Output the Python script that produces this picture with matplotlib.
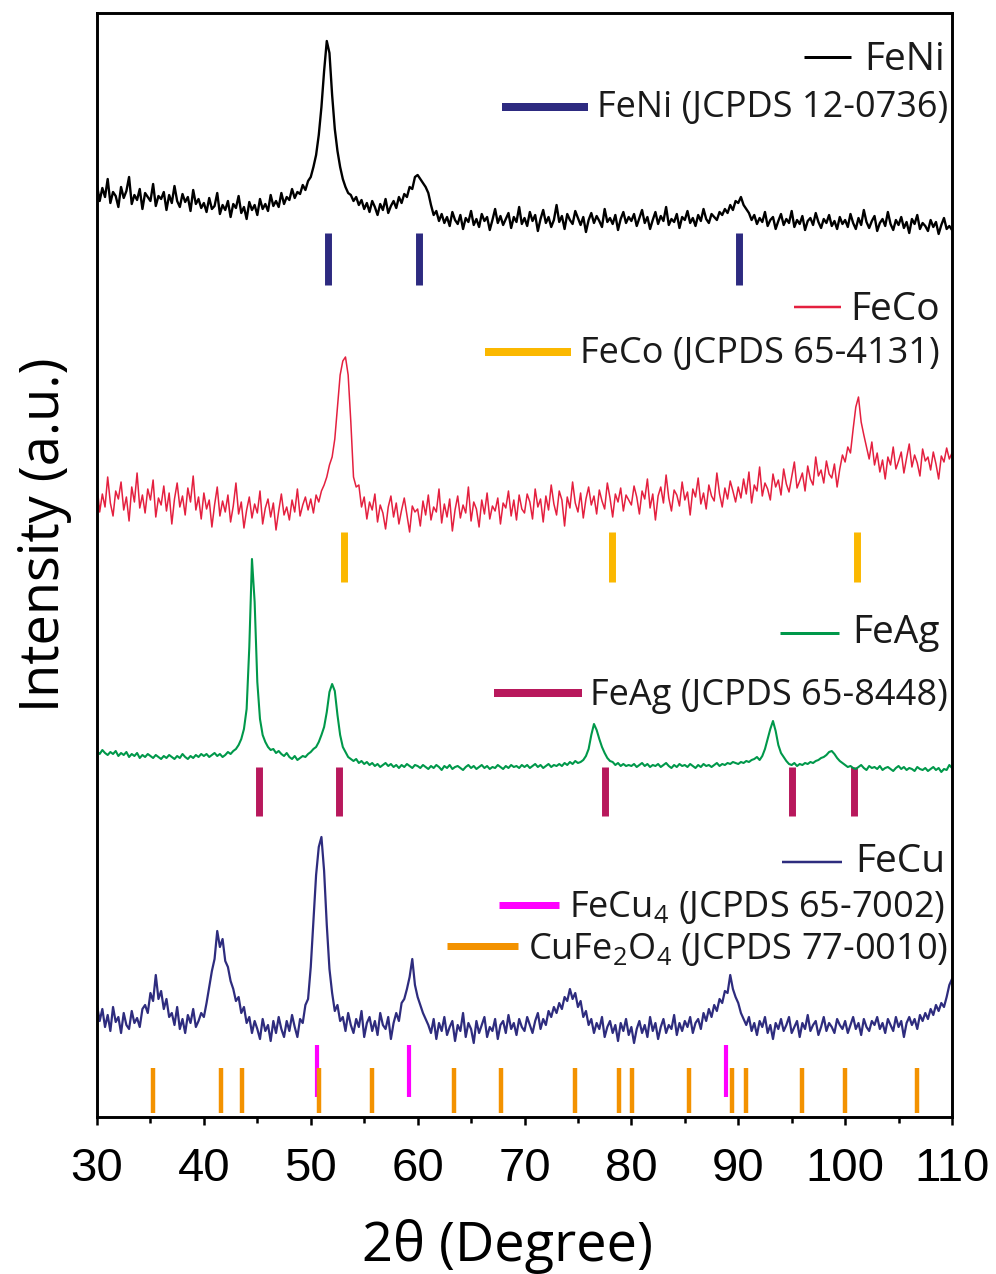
import numpy as np
import matplotlib
matplotlib.use("Agg")
import matplotlib.pyplot as plt
from matplotlib.ticker import MultipleLocator
from matplotlib.transforms import blended_transform_factory

# 2-theta grid of the scans (0.25 degree step)
two_theta = np.arange(30, 110.001, 0.25)

# intensities (a.u.), one line per 10 degrees
fe_ni = [82, 66, 79, 70, 88, 64, 75, 71, 60, 80, 69, 76, 90, 63, 72, 67, 78, 58, 74, 70, 66, 83, 61, 71, 68, 75, 57, 72, 64, 81, 66, 60, 73, 65, 70, 56, 77, 63, 68, 59,
         64, 55, 69, 58, 61, 74, 53, 62, 57, 66, 50, 63, 59, 71, 54, 60, 48, 65, 57, 62, 52, 68, 58, 63, 56, 72, 61, 66, 60, 74, 63, 70, 67, 78, 69, 75, 73, 82, 77, 86,
         90, 100, 112, 132, 160, 196, 226, 214, 172, 138, 116, 100, 88, 80, 74, 72, 66, 70, 62, 67, 58, 64, 55, 66, 60, 52, 63, 57, 68, 54, 61, 66, 59, 70, 64, 73, 70, 80, 78, 90,
         92, 88, 84, 80, 74, 62, 52, 56, 46, 53, 44, 50, 41, 55, 47, 43, 52, 38, 49, 45, 56, 42, 48, 40, 53, 46, 50, 37, 47, 58, 44, 51, 42, 48, 54, 39, 50, 45, 60, 43,
         49, 41, 55, 46, 52, 36, 48, 57, 44, 50, 40, 47, 62, 45, 51, 38, 53, 47, 43, 56, 49, 42, 50, 35, 47, 54, 44, 51, 46, 40, 58, 45, 49, 43, 52, 37, 48, 55, 44, 50,
         46, 53, 41, 49, 57, 44, 50, 38, 47, 55, 43, 51, 46, 60, 42, 48, 45, 53, 39, 50, 47, 56, 44, 49, 41, 52, 46, 58, 48, 44, 53, 50, 47, 55, 52, 58, 54, 62, 57, 66,
         64, 70, 62, 58, 54, 47, 52, 43, 49, 45, 55, 41, 47, 50, 38, 46, 53, 42, 48, 44, 56, 40, 47, 43, 51, 37, 46, 49, 42, 54, 45, 39, 48, 44, 52, 41, 46, 38, 50, 43,
         47, 40, 53, 44, 38, 49, 42, 57, 45, 39, 46, 51, 36, 44, 48, 41, 55, 43, 37, 47, 42, 50, 39, 45, 34, 48, 43, 52, 38, 44, 41, 36, 47, 40, 45, 33, 42, 49, 38, 41, 37]

fe_co = [72, 45, 63, 50, 80, 54, 41, 66, 58, 75, 47, 60, 36, 70, 55, 84, 49, 62, 44, 68, 57, 77, 40, 59, 52, 71, 46, 64, 33, 58, 74, 50, 61, 42, 69, 55, 81, 47, 60, 38,
         64, 48, 57, 30, 52, 70, 41, 56, 45, 62, 35, 51, 74, 43, 55, 29, 47, 60, 39, 53, 44, 66, 33, 49, 58, 40, 54, 27, 46, 63, 42, 50, 37, 57, 45, 68, 41, 52, 60, 47,
         58, 44, 62, 55, 66, 72, 80, 92, 100, 118, 150, 182, 196, 200, 182, 135, 80, 70, 72, 50, 60, 38, 55, 47, 63, 35, 52, 44, 28, 50, 61, 40, 54, 33, 47, 59, 42, 25, 51, 45,
         48, 31, 56, 42, 62, 37, 50, 45, 68, 34, 53, 40, 58, 26, 47, 61, 39, 52, 44, 70, 36, 55, 48, 30, 57, 43, 64, 38, 51, 46, 59, 33, 54, 49, 66, 41, 57, 37, 62, 48,
         44, 63, 55, 38, 68, 50, 58, 35, 61, 47, 72, 53, 42, 66, 57, 31, 60, 49, 75, 54, 45, 64, 39, 58, 70, 52, 61, 43, 67, 56, 48, 74, 59, 40, 63, 55, 69, 46, 62, 57,
         52, 71, 60, 43, 66, 58, 78, 49, 63, 37, 61, 70, 54, 82, 59, 46, 67, 62, 51, 75, 57, 65, 42, 68, 60, 79, 53, 64, 48, 72, 61, 56, 84, 63, 50, 69, 58, 76, 66, 55,
         70, 59, 78, 63, 85, 54, 72, 66, 90, 61, 74, 68, 57, 83, 70, 77, 62, 88, 73, 65, 80, 95, 69, 76, 84, 66, 91, 78, 72, 100, 81, 87, 74, 96, 83, 79, 93, 70, 88, 102,
         95, 110, 104, 128, 150, 160, 135, 122, 110, 98, 115, 92, 104, 85, 97, 78, 100, 92, 110, 88, 96, 105, 84, 99, 113, 90, 102, 94, 81, 108, 96, 100, 87, 105, 93, 78, 101, 95, 109, 98, 104]

fe_ag = [36, 33, 37, 34, 32, 35, 33, 36, 31, 34, 32, 35, 30, 33, 31, 34, 29, 32, 30, 33, 31, 29, 32, 30, 28, 31, 29, 32, 30, 28, 31, 29, 33, 30, 28, 31, 29, 32, 30, 33,
         31, 33, 30, 32, 34, 31, 33, 30, 32, 35, 33, 36, 38, 42, 48, 58, 78, 140, 228, 185, 105, 68, 52, 45, 40, 37, 38, 34, 36, 33, 31, 34, 30, 28, 31, 27, 29, 31, 30, 33,
         35, 38, 40, 45, 52, 60, 75, 95, 103, 96, 72, 52, 40, 35, 30, 28, 26, 28, 24, 26, 23, 25, 22, 24, 21, 23, 20, 22, 24, 21, 23, 20, 22, 19, 22, 20, 23, 21, 19, 22,
         21, 19, 22, 20, 18, 21, 19, 22, 20, 17, 21, 19, 22, 18, 20, 21, 19, 17, 20, 22, 19, 21, 18, 20, 22, 19, 21, 18, 20, 19, 22, 20, 18, 21, 19, 22, 20, 21, 19, 22,
         20, 22, 19, 21, 23, 20, 22, 19, 21, 23, 20, 22, 21, 23, 21, 24, 22, 25, 23, 26, 24, 25, 27, 31, 38, 52, 63, 57, 48, 40, 34, 29, 26, 25, 22, 24, 21, 23, 21, 22,
         21, 23, 20, 22, 24, 21, 23, 20, 22, 21, 23, 20, 22, 24, 21, 19, 22, 20, 23, 21, 22, 20, 23, 21, 19, 22, 20, 23, 21, 22, 20, 22, 24, 21, 23, 22, 24, 23, 25, 24,
         23, 25, 24, 26, 25, 27, 28, 30, 27, 31, 38, 48, 58, 66, 56, 42, 34, 30, 26, 23, 22, 24, 21, 23, 22, 24, 23, 25, 24, 26, 27, 29, 30, 32, 35, 36, 33, 29, 26, 24,
         22, 20, 21, 19, 18, 20, 22, 19, 17, 21, 19, 20, 18, 21, 17, 19, 20, 18, 16, 19, 21, 18, 20, 17, 19, 18, 16, 20, 18, 17, 19, 16, 18, 20, 17, 19, 15, 18, 17, 22, 19]

fe_cu = [112, 96, 108, 90, 102, 86, 110, 95, 100, 84, 104, 92, 88, 106, 94, 99, 90, 108, 112, 104, 124, 116, 142, 118, 126, 108, 118, 100, 104, 92, 110, 88, 98, 84, 102, 94, 108, 90, 96, 104,
         100, 114, 130, 146, 158, 186, 170, 178, 156, 150, 136, 128, 116, 120, 104, 110, 94, 100, 84, 96, 88, 78, 98, 86, 92, 76, 96, 84, 100, 88, 80, 96, 86, 102, 90, 80, 98, 94, 112, 118,
         150, 196, 242, 270, 280, 246, 192, 148, 124, 106, 112, 96, 100, 86, 104, 92, 84, 98, 90, 106, 80, 94, 100, 86, 96, 82, 104, 92, 88, 100, 78, 94, 104, 96, 114, 118, 128, 140, 158, 132,
         120, 112, 104, 98, 92, 84, 98, 78, 94, 86, 100, 82, 90, 96, 76, 92, 86, 104, 80, 94, 88, 74, 96, 84, 92, 100, 80, 90, 86, 98, 78, 92, 96, 84, 102, 88, 94, 82, 98, 90,
         86, 100, 92, 84, 96, 104, 88, 98, 92, 106, 100, 110, 104, 114, 108, 120, 116, 128, 118, 124, 110, 116, 100, 106, 92, 98, 84, 94, 88, 100, 80, 90, 96, 84, 92, 76, 94, 86, 98, 82,
         90, 74, 88, 96, 84, 92, 80, 100, 86, 94, 78, 90, 98, 84, 92, 88, 102, 82, 94, 86, 96, 90, 100, 84, 94, 98, 88, 104, 96, 108, 100, 112, 106, 118, 114, 126, 124, 142, 128, 120,
         114, 104, 98, 92, 100, 86, 94, 82, 96, 90, 100, 84, 92, 78, 94, 88, 98, 86, 92, 100, 84, 90, 96, 80, 94, 88, 102, 86, 92, 96, 82, 90, 100, 86, 94, 90, 84, 98, 92, 88,
         96, 84, 92, 100, 88, 94, 82, 98, 90, 86, 96, 92, 100, 88, 94, 84, 98, 92, 86, 100, 90, 96, 80, 94, 100, 92, 98, 88, 102, 96, 104, 98, 108, 102, 112, 106, 114, 110, 120, 132, 138]

# reference peak positions (2-theta)
feni_ref = [51.6, 60.1, 90.1]
feco_ref = [53.1, 78.2, 101.1]
feag_ref = [45.2, 52.6, 77.5, 95.0, 100.8]
fecu4_ref = [50.6, 59.2, 88.9]
cufe2o4_ref = [35.2, 41.6, 43.6, 50.8, 55.7, 63.4, 67.8, 74.7, 78.8, 80.1,
               85.4, 89.4, 90.7, 96.0, 100.0, 106.7]

sample_names = ['FeNi', 'FeCo', 'FeAg', 'FeCu']
ref_names = ['FeNi (JCPDS 12-0736)', 'FeCo (JCPDS 65-4131)', 'FeAg (JCPDS 65-8448)',
             'FeCu$_4$ (JCPDS 65-7002)', 'CuFe$_2$O$_4$ (JCPDS 77-0010)']

plt.rcParams['font.family'] = ['Open Sans', 'DejaVu Sans']
plt.rcParams['mathtext.default'] = 'regular'

fig = plt.figure(figsize=(9.96, 12.74), dpi=100)
ax = fig.add_axes([97 / 996, 1 - 1117 / 1274, 855 / 996, 1104 / 1274])

# reference sticks
ax.vlines(feni_ref, 832, 884, color='#2d2a80', lw=5, zorder=1)
ax.vlines(feco_ref, 535, 585, color='#fbb800', lw=5, zorder=1)
ax.vlines(feag_ref, 301, 350, color='#b8185c', lw=5, zorder=1)
ax.vlines(fecu4_ref, 20, 72, color='#ff00ff', lw=3, zorder=1)
ax.vlines(cufe2o4_ref, 4, 49, color='#f39200', lw=3.2, zorder=1)

# patterns stacked with offsets
ax.plot(two_theta, np.array(fe_ni) + 850, color='black', lw=1.7, zorder=2)
ax.plot(two_theta, np.array(fe_co) + 560, color='#e4203f', lw=1.1, zorder=2)
ax.plot(two_theta, np.array(fe_ag) + 330, color='#00984a', lw=1.5, zorder=2)
ax.plot(two_theta, np.array(fe_cu), color='#2e2c7e', lw=1.6, zorder=2)

ax.set_xlim(30, 110)
ax.set_ylim(0, 1104)
ax.set_yticks([])
ax.set_xticks(range(30, 111, 10))
ax.xaxis.set_minor_locator(MultipleLocator(5))
ax.tick_params(axis='x', which='major', direction='out', length=5.8, width=1.8,
               labelsize=34, pad=16)
ax.tick_params(axis='x', which='minor', direction='out', length=4.5, width=1.8)
for lbl in ax.get_xticklabels():
    lbl.set_fontfamily(['Liberation Sans', 'DejaVu Sans'])
for sp in ax.spines.values():
    sp.set_linewidth(2.1)

ax.set_xlabel('2θ (Degree)', fontsize=39)
ax.xaxis.set_label_coords(0.4807, -0.0924)
ax.set_ylabel('Intensity (a.u.)', fontsize=39)
ax.yaxis.set_label_coords(-0.029, 0.527)

# legend rows: label, size, right edge px, baseline, line centre, line length px, gap px, line width px, colour
legend_rows = [
    (sample_names[0], 28, 945, 1047, 1060, 47, 13, 3, 'black'),
    (ref_names[0], 26, 948, 1000, 1010, 86, 9, 8, '#2d2a80'),
    (sample_names[1], 28, 940, 797, 810, 47, 9, 2.5, '#e4203f'),
    (ref_names[1], 26, 940, 754, 765, 86, 9, 8, '#fbb800'),
    (sample_names[2], 28, 940, 474, 484, 59, 14, 3, '#00984a'),
    (ref_names[2], 26, 948, 412, 424, 88, 8, 8, '#b8185c'),
    (sample_names[3], 28, 945, 245, 255, 60, 13, 2.5, '#2e2c7e'),
    (ref_names[3], 26, 945, 200, 212, 60, 10, 7, '#ff00ff'),
    (ref_names[4], 26, 948, 158, 171, 71, 10, 7, '#f39200'),
]
trans = blended_transform_factory(ax.transAxes, ax.transData)
texts = []
for label, fs, xr, yb, yl, ln, gap, lw, col in legend_rows:
    t = ax.text((xr - 97) / 855, yb, label, transform=trans, ha='right',
                va='baseline', fontsize=fs, color='#1a1a1a')
    texts.append(t)

fig.canvas.draw()
inv = ax.transAxes.inverted()
for t, (label, fs, xr, yb, yl, ln, gap, lw, col) in zip(texts, legend_rows):
    bb = t.get_window_extent()
    ypx = ax.transData.transform((0, yl))[1]
    p0 = inv.transform((bb.x0 - gap - ln, ypx))
    p1 = inv.transform((bb.x0 - gap, ypx))
    ax.plot([p0[0], p1[0]], [p0[1], p1[1]], transform=ax.transAxes, color=col,
            lw=lw / 1.389, solid_capstyle='butt', clip_on=False)

fig.savefig('out.png', dpi=100)
